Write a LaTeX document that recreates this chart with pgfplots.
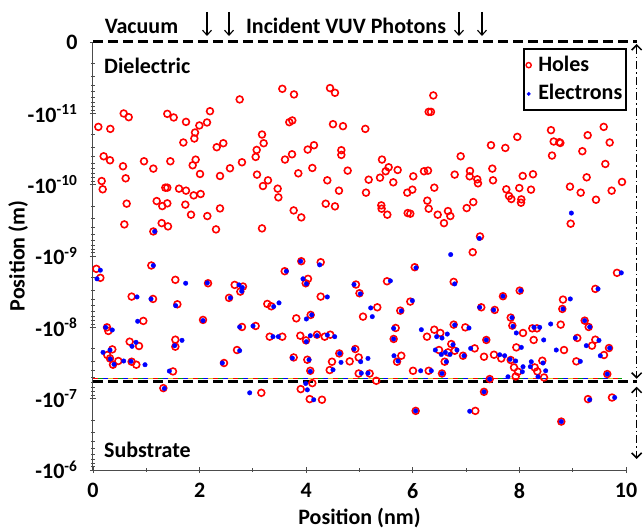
\documentclass[border=0pt]{standalone}
\usepackage{fontspec}
\setmainfont{Carlito}
\usepackage{pgfplots}
\usepackage{pgfplotstable}
\pgfplotsset{compat=1.18}
\usetikzlibrary{arrows.meta}

% y = -log10(depth in m); x = lateral position (nm)
\pgfplotstableread{
x y
2.752 11.195
0.576 10.998
0.670 10.946
1.394 10.993
1.514 10.942
1.745 10.880
2.195 11.030
2.139 10.872
1.995 10.830
0.100 10.810
0.325 10.782
1.914 10.731
1.901 10.647
1.695 10.591
3.171 10.703
3.202 10.581
2.321 10.525
2.445 10.581
3.071 10.487
3.052 10.389
0.200 10.398
0.319 10.342
0.563 10.258
0.957 10.328
1.132 10.225
1.451 10.328
1.926 10.351
1.870 10.272
2.008 10.150
2.570 10.230
2.795 10.314
2.383 10.122
3.077 10.141
3.283 10.061
3.189 9.981
0.163 10.051
0.182 9.935
0.613 10.089
1.357 9.958
1.394 9.958
1.614 9.944
1.745 9.916
1.889 9.850
2.020 9.869
0.632 9.734
1.195 9.770
1.300 9.700
1.394 9.738
1.732 9.720
1.839 9.579
2.145 9.560
2.383 9.667
0.588 9.443
1.289 9.461
1.407 9.415
2.308 9.373
3.171 9.387
1.132 9.344
3.552 11.344
3.771 11.265
4.447 11.354
4.540 11.288
6.385 11.251
6.298 11.021
6.341 11.021
3.683 10.876
3.739 10.900
4.503 10.848
4.690 10.820
5.109 10.782
4.028 10.492
4.146 10.553
4.659 10.483
4.659 10.417
3.602 10.352
3.734 10.426
5.422 10.352
5.547 10.244
5.491 10.188
5.716 10.206
3.852 10.159
4.115 10.234
4.778 10.197
4.396 10.061
5.172 10.070
5.385 10.098
5.634 10.033
6.009 10.117
6.210 10.188
6.285 10.197
3.465 9.944
3.478 9.822
4.615 9.916
5.122 9.888
5.897 9.888
5.991 9.930
6.403 9.958
3.765 9.639
3.908 9.541
4.366 9.733
4.540 9.696
5.409 9.710
5.415 9.663
5.522 9.579
5.904 9.602
5.953 9.593
6.272 9.776
6.298 9.663
6.467 9.579
6.585 9.461
6.660 9.630
6.704 9.560
8.593 10.764
8.643 10.605
8.749 10.595
8.768 10.585
8.612 10.408
7.961 10.670
7.467 10.553
7.736 10.515
6.898 10.398
9.281 10.693
9.582 10.810
9.694 10.591
9.181 10.469
9.612 10.290
6.786 10.141
7.073 10.192
7.067 10.117
7.210 10.075
7.223 10.019
7.492 10.225
7.505 10.061
8.062 10.122
8.255 10.146
7.754 9.935
7.998 9.953
8.218 9.930
7.805 9.841
7.848 9.799
8.036 9.794
8.030 9.747
8.949 9.972
9.150 9.888
9.262 10.103
9.437 9.789
9.731 9.916
9.925 10.038
7.135 9.756
7.011 9.672
8.962 9.453
7.261 9.274
7.124 9.053
0.063 8.820
0.138 8.694
1.094 8.867
1.545 8.666
2.158 8.618
0.725 8.431
1.126 8.398
1.583 8.323
0.944 8.090
2.064 8.104
0.263 8.000
0.288 7.949
0.688 7.799
0.863 7.738
1.545 7.827
1.545 7.729
0.362 7.691
0.268 7.612
0.319 7.564
0.375 7.476
0.475 7.528
0.725 7.518
0.813 7.476
1.501 7.382
1.320 7.148
3.908 8.927
4.272 8.913
3.597 8.787
4.034 8.680
3.991 8.618
2.658 8.595
2.814 8.572
2.764 8.501
2.552 8.413
4.272 8.431
3.270 8.328
3.345 8.295
3.814 8.126
4.084 8.174
2.795 8.005
3.052 8.019
3.315 7.869
3.552 7.869
3.889 7.883
3.996 7.817
4.203 7.897
4.347 7.869
4.452 7.897
2.702 7.682
2.458 7.500
3.765 7.578
4.021 7.546
4.077 7.391
4.484 7.518
4.441 7.401
4.816 7.523
4.621 7.634
4.921 7.696
4.985 7.578
4.985 7.353
4.934 8.600
5.000 8.478
3.158 7.082
3.897 7.134
4.115 7.218
4.066 6.994
4.296 6.985
6.036 8.843
5.516 8.646
6.767 8.637
5.953 8.361
5.765 8.234
5.334 8.281
5.066 8.150
5.679 7.991
5.641 7.837
6.266 7.869
6.403 7.967
6.516 7.921
6.767 8.038
6.985 8.000
6.492 7.682
6.722 7.766
6.786 7.672
6.660 7.649
6.598 7.518
6.942 7.602
7.161 7.705
7.379 7.823
7.285 8.281
7.537 8.244
7.336 7.588
7.523 7.616
5.784 7.602
5.704 7.518
6.004 7.391
6.298 7.391
6.548 7.353
5.191 7.353
5.315 7.251
7.336 7.096
7.443 7.275
6.054 6.829
7.173 6.829
9.831 8.764
9.424 8.539
7.692 8.436
8.006 8.515
8.818 8.389
8.805 8.258
7.837 8.136
7.867 8.024
8.068 7.921
8.242 7.986
8.330 7.986
8.268 7.823
8.775 8.038
9.225 8.094
9.300 8.005
9.086 7.851
9.424 7.827
9.362 7.743
9.681 7.710
9.587 7.612
8.837 7.682
7.942 7.719
7.660 7.564
7.837 7.542
7.899 7.438
7.974 7.377
7.930 7.311
8.287 7.438
8.336 7.382
8.430 7.532
8.462 7.297
9.068 7.523
9.649 7.345
9.287 6.994
9.737 7.016
8.786 6.679
}\holes

\pgfplotstableread{
x y
1.157 9.344
8.975 9.602
7.248 9.246
6.711 9.020
0.138 8.801
0.075 8.680
1.132 8.867
1.739 8.618
2.145 8.623
0.826 8.426
1.088 8.398
1.551 8.304
0.838 8.085
2.064 8.095
0.238 8.000
0.362 7.963
0.807 7.790
0.732 7.734
1.670 7.818
1.532 7.743
0.188 7.649
0.319 7.682
0.325 7.556
0.394 7.481
0.576 7.528
0.713 7.523
0.976 7.476
1.432 7.387
1.338 7.143
3.896 8.927
4.253 8.876
3.627 8.787
3.940 8.680
4.003 8.609
2.739 8.595
2.801 8.558
2.790 8.506
2.577 8.413
4.396 8.426
3.390 8.291
3.490 8.343
4.003 8.117
4.103 8.174
2.752 8.005
3.002 8.019
3.377 7.869
3.477 7.869
4.003 7.799
4.077 7.883
4.203 7.883
4.396 7.892
4.535 7.869
2.752 7.673
2.426 7.500
3.740 7.569
4.053 7.546
4.077 7.382
4.503 7.405
4.653 7.509
4.628 7.634
4.897 7.696
5.034 7.358
4.897 8.600
5.015 8.469
2.940 7.082
3.991 7.213
4.021 7.124
4.141 6.985
6.060 8.834
5.579 8.651
6.786 8.609
5.991 8.375
5.784 8.230
5.210 8.272
5.240 8.150
5.641 7.986
5.641 7.837
6.160 7.967
6.448 7.869
6.548 7.850
6.647 7.906
6.786 8.033
7.054 7.991
6.422 7.682
6.754 7.757
6.829 7.682
6.610 7.649
6.629 7.518
6.535 7.620
6.698 7.620
6.960 7.602
7.086 7.705
7.379 7.823
7.255 8.281
7.518 8.244
5.647 7.602
5.722 7.528
6.148 7.391
6.347 7.391
6.548 7.353
5.022 7.518
5.159 7.564
5.159 7.358
7.336 7.096
7.443 7.275
6.054 6.829
7.068 6.824
9.912 8.764
9.475 8.539
7.692 8.436
8.024 8.515
8.955 8.398
8.818 8.258
7.861 8.136
7.880 8.014
7.942 7.921
8.274 8.000
8.381 8.000
8.456 7.823
8.587 8.047
9.225 8.094
9.319 8.005
9.049 7.851
9.493 7.817
9.255 7.743
9.693 7.710
9.518 7.602
8.692 7.682
8.036 7.719
7.630 7.616
7.724 7.602
7.824 7.551
7.930 7.528
8.068 7.448
8.055 7.377
7.786 7.307
8.223 7.518
8.205 7.448
8.443 7.500
8.493 7.391
8.349 7.307
9.143 7.523
9.649 7.345
9.319 6.985
9.788 7.016
8.786 6.679
}\electrons

\begin{document}
\fontsize{22}{26}\selectfont\bfseries
\begin{tikzpicture}
\useasboundingbox (-93pt,-61pt) rectangle (550pt,470pt);
\begin{axis}[
  scale only axis, width=533pt, height=428pt,
  xmin=0, xmax=10, ymin=6, ymax=12,
  axis lines=left,
  axis line style={-, line width=1pt, black!70},
  clip=false,
  xtick={0,2,4,6,8,10},
  minor xtick={1,3,5,7,9},
  ytick={6,7,8,9,10,11,12},
  yticklabels={{-10\textsuperscript{-6}},{-10\textsuperscript{-7}},{-10\textsuperscript{-8}},{-10\textsuperscript{-9}},{-10\textsuperscript{-10}},{-10\textsuperscript{-11}},{0}},
  minor ytick={11.699,11.523,11.398,11.301,11.222,11.155,11.097,11.046,
               10.699,10.523,10.398,10.301,10.222,10.155,10.097,10.046,
               9.699,9.523,9.398,9.301,9.222,9.155,9.097,9.046,
               8.699,8.523,8.398,8.301,8.222,8.155,8.097,8.046,
               7.699,7.523,7.398,7.301,7.222,7.155,7.097,7.046,
               6.699,6.523,6.398,6.301,6.222,6.155,6.097,6.046},
  tick style={line width=0.8pt, black!70},
  major tick length=6pt, minor tick length=3.5pt,
  /pgf/number format/assume math mode=true,
  yticklabel style={xshift=-5pt},
  xticklabel style={yshift=-3pt},
  xlabel={Position (nm)}, ylabel={Position (m)},
  xlabel style={at={(axis description cs:0.5,-0.112)}, anchor=center},
  ylabel style={at={(axis description cs:-0.1407,0.5)}, anchor=center},
  legend style={at={(axis description cs:1.002,0.986)}, anchor=north east,
    draw=black, line width=1.6pt, inner xsep=2pt, inner ysep=5pt, row sep=6pt,
    /tikz/every odd column/.style={column sep=5pt}},
  legend cell align=left,
]
\addplot[only marks, mark=o, mark size=3.4pt, red, line width=1.6pt,
  legend image code/.code={\draw[red, line width=1.4pt] plot[mark=o, mark size=2.6pt] coordinates {(0.3cm,0cm)};}]
  table[x=x,y=y]{\holes};
\addlegendentry{Holes}
\addplot[only marks, mark=*, mark size=2.3pt, blue, line width=0.3pt, mark options={fill=blue, draw=blue},
  legend image code/.code={\draw[blue, fill=blue, line width=0.3pt] plot[mark=*, mark size=1.8pt] coordinates {(0.3cm,0cm)};}]
  table[x=x,y=y]{\electrons};
\addlegendentry{Electrons}

% boundary lines
\draw[line width=3pt, dash pattern=on 10pt off 5pt] (axis cs:0,12) -- (axis cs:10.2,12);
\draw[line width=1.2pt, green!60!black] (axis cs:0,7.283) -- (axis cs:9.92,7.283);
\draw[line width=1.2pt, red, dash pattern=on 5pt off 15pt] (axis cs:0,7.283) -- (axis cs:9.92,7.283);
\draw[line width=1.2pt, blue, dash pattern=on 5pt off 15pt, dash phase=10pt] (axis cs:0,7.283) -- (axis cs:9.92,7.283);
\draw[line width=1.2pt, yellow!80!black, dash pattern=on 5pt off 15pt, dash phase=5pt] (axis cs:0,7.283) -- (axis cs:9.92,7.283);
\draw[line width=3pt, dash pattern=on 10pt off 5pt] (axis cs:0,7.237) -- (axis cs:10.2,7.237);

% thickness arrows
\draw[line width=1.5pt, dash pattern=on 8pt off 3pt on 1.5pt off 3pt,
  {Straight Barb[length=5pt,width=10pt]}-{Straight Barb[length=5pt,width=10pt]}]
  (axis cs:10.2,11.972) -- (axis cs:10.2,7.279);
\draw[line width=1.5pt, dash pattern=on 8pt off 3pt on 1.5pt off 3pt,
  {Straight Barb[length=5pt,width=10pt]}-{Straight Barb[length=5pt,width=10pt]}]
  (axis cs:10.2,7.167) -- (axis cs:10.2,6.155);

% photon arrows
\draw[line width=1.1pt, -{Straight Barb[length=5pt,width=9pt]}] (axis cs:2.139,12.422) -- (axis cs:2.139,12.084);
\draw[line width=1.1pt, -{Straight Barb[length=5pt,width=9pt]}] (axis cs:2.552,12.422) -- (axis cs:2.552,12.084);
\draw[line width=1.1pt, -{Straight Barb[length=5pt,width=9pt]}] (axis cs:6.867,12.422) -- (axis cs:6.867,12.084);
\draw[line width=1.1pt, -{Straight Barb[length=5pt,width=9pt]}] (axis cs:7.298,12.422) -- (axis cs:7.298,12.084);

% region labels
\node[anchor=base, inner sep=0pt] at (axis cs:0.91,12.126) {Vacuum};
\node[anchor=base, inner sep=0pt] at (axis cs:4.747,12.126) {Incident VUV Photons};
\node[anchor=base west, inner sep=0pt] at (axis cs:0.206,11.564) {Dielectric};
\node[anchor=base west, inner sep=0pt] at (axis cs:0.206,6.169) {Substrate};
\end{axis}
\end{tikzpicture}
\end{document}
